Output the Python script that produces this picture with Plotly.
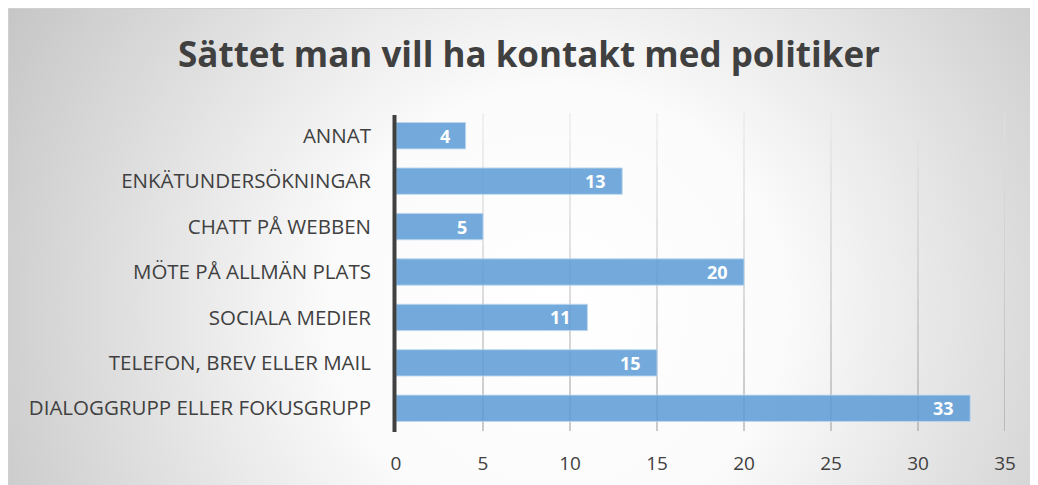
import base64
import plotly.graph_objects as go

categories = ["DIALOGGRUPP ELLER FOKUSGRUPP", "TELEFON, BREV ELLER MAIL", "SOCIALA MEDIER",
              "MÖTE PÅ ALLMÄN PLATS", "CHATT PÅ WEBBEN", "ENKÄTUNDERSÖKNINGAR", "ANNAT"]
values = [33, 15, 11, 20, 5, 13, 4]
x_ticks = [0, 5, 10, 15, 20, 25, 30, 35]
title_text = "Sättet man vill ha kontakt med politiker"

W, H = 1038, 485
ML, MR, MT, MB = 388, 41, 105, 62
PW, PH = W - ML - MR, H - MT - MB

svg = ('<svg xmlns="http://www.w3.org/2000/svg" width="1038" height="485" viewBox="0 0 1038 485" '
       'preserveAspectRatio="none"><defs><radialGradient id="g" cx="0.53" cy="0.62" r="0.62" '
       'gradientTransform="translate(0.53 0.62) scale(1 2.1) translate(-0.53 -0.62)">'
       '<stop offset="0" stop-color="#ffffff"/><stop offset="0.35" stop-color="#fbfbfb"/>'
       '<stop offset="1" stop-color="#c4c4c4"/></radialGradient></defs>'
       '<rect x="0.5" y="0.5" width="1037" height="484" fill="url(#g)" stroke="#d0d0d0" stroke-width="1"/></svg>')
src = "data:image/svg+xml;base64," + base64.b64encode(svg.encode()).decode()

fig = go.Figure()
fig.add_trace(go.Bar(
    y=categories, x=values, orientation="h", width=0.58,
    marker=dict(color="rgba(91,155,213,0.85)", line=dict(color="rgba(189,215,238,0.9)", width=1)),
    hoverinfo="skip",
))

annotations = [dict(x=v, y=c, xref="x", yref="y", text=str(v), showarrow=False,
                    xanchor="right", yanchor="middle", xshift=-14,
                    font=dict(family="Open Sans", size=18, color="white", weight="bold"))
               for c, v in zip(categories, values)]

# gridlines fading from light (top) to darker (bottom)
shapes = []
NSEG = 12
for t in x_ticks[1:]:
    for i in range(NSEG):
        f = (i + 0.5) / NSEG  # 0 at bottom, 1 at top
        g = int(150 + (232 - 150) * f)
        shapes.append(dict(type="line", xref="x", yref="paper", x0=t, x1=t,
                           y0=i / NSEG, y1=(i + 1) / NSEG,
                           line=dict(color=f"rgb({g},{g},{g})", width=1), layer="below"))
# vertical axis line
shapes.append(dict(type="line", xref="paper", yref="paper", x0=-1.5 / PW, x1=-1.5 / PW,
                   y0=-1 / PH, y1=1 - 2 / PH, line=dict(color="#404040", width=4), layer="above"))

fig.update_layout(
    width=W, height=H,
    margin=dict(l=ML, r=MR, t=MT, b=MB, pad=0),
    paper_bgcolor="white", plot_bgcolor="rgba(0,0,0,0)",
    showlegend=False,
    title=dict(text=title_text, x=521 / W, xanchor="center", xref="container",
               y=1 - 47 / H, yanchor="middle", yref="container",
               font=dict(family="Open Sans", size=35, color="#404040", weight="bold")),
    xaxis=dict(range=[0, 35], tickvals=x_ticks, showgrid=False,
               zeroline=False, showline=False, ticks="", ticklabelstandoff=19,
               tickfont=dict(family="Open Sans", size=19, color="#404040"), fixedrange=True),
    yaxis=dict(range=[-0.5, 6.5], showgrid=False, zeroline=False, showline=False, ticks="",
               ticklabelstandoff=24,
               tickfont=dict(family="Open Sans", size=20.5, color="#404040"), fixedrange=True),
    annotations=annotations,
    images=[dict(source=src, xref="paper", yref="paper",
                 x=-ML / PW, y=(H - MB) / PH,
                 sizex=W / PW, sizey=H / PH,
                 xanchor="left", yanchor="top", sizing="stretch", layer="below")],
    shapes=shapes,
)

fig.write_html("out.html")
